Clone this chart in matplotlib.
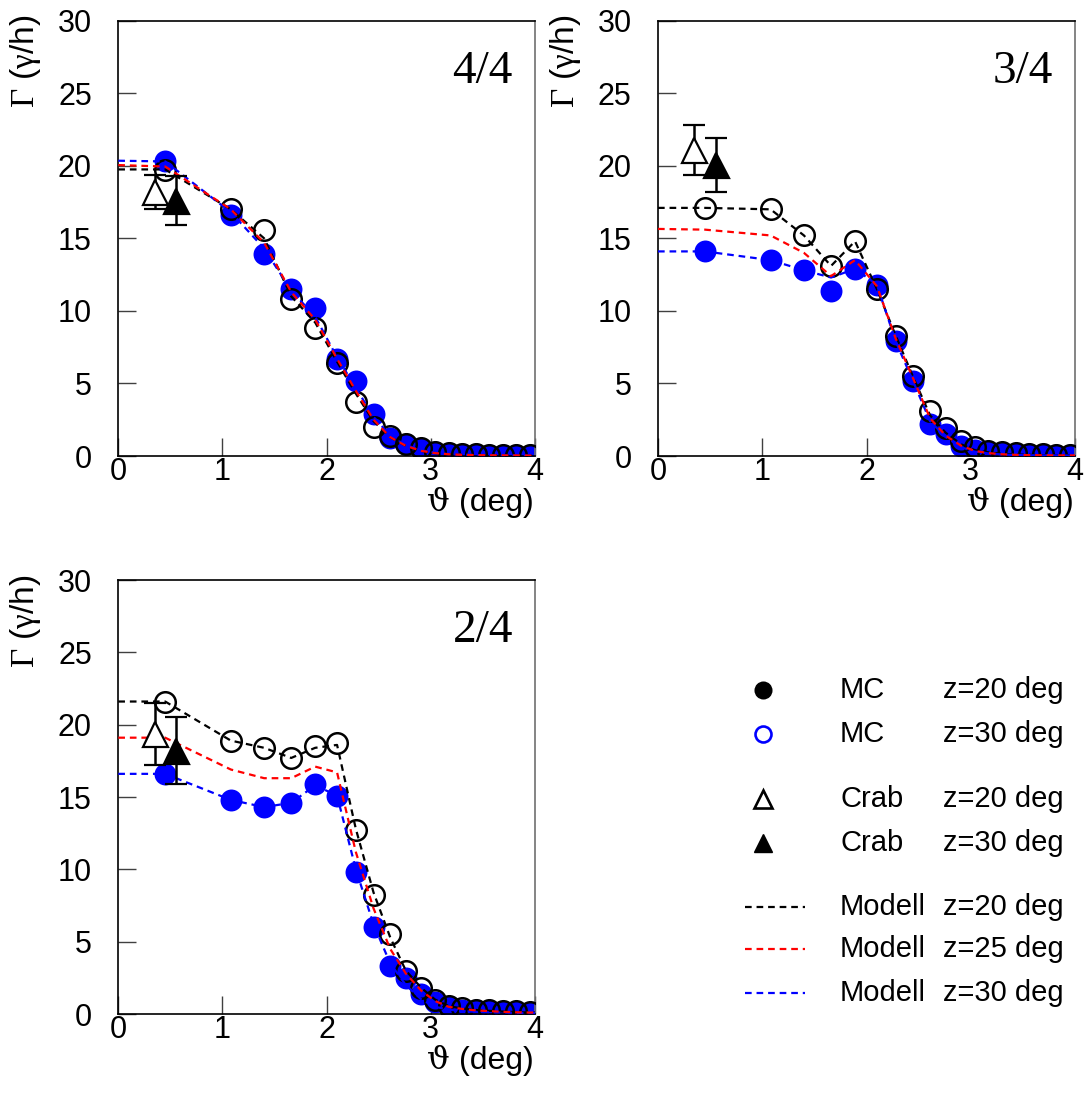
import matplotlib
matplotlib.use("Agg")
import matplotlib.pyplot as plt

plt.rcParams['font.family'] = ['Liberation Sans', 'DejaVu Sans']
plt.rcParams['mathtext.fontset'] = 'custom'
plt.rcParams['mathtext.rm'] = 'Liberation Serif'
plt.rcParams['mathtext.it'] = 'Liberation Serif:italic'
plt.rcParams['mathtext.sf'] = 'DejaVu Serif'

# ---------------- data ----------------
theta = [0.45, 1.08, 1.40, 1.66, 1.89, 2.10, 2.28, 2.45, 2.61, 2.76,
         2.91, 3.04, 3.17, 3.30, 3.43, 3.56, 3.69, 3.82, 3.95]
theta_model = [0.0] + theta + [4.0]

panel_labels = ["4/4", "3/4", "2/4"]

# panel 4/4
mc20_44 = [19.7, 17.0, 15.6, 10.8, 8.8, 6.4, 3.7, 2.0, 1.35, 0.85,
           0.55, 0.3, 0.2, 0.15, 0.12, 0.1, 0.1, 0.08, 0.08]
mc30_44 = [20.3, 16.6, 13.9, 11.5, 10.2, 6.7, 5.2, 2.9, 1.25, 0.8,
           0.5, 0.3, 0.2, 0.15, 0.12, 0.1, 0.1, 0.08, 0.08]
mod20_44 = [19.75, 19.75, 17.0, 15.0, 11.0, 9.2, 6.5, 4.3, 2.4, 1.3, 0.7,
            0.35, 0.2, 0.12, 0.08, 0.06, 0.05, 0.04, 0.04, 0.03, 0.03]
mod25_44 = [20.05, 19.95, 17.0, 14.7, 11.3, 9.4, 6.7, 4.5, 2.5, 1.3, 0.7,
            0.35, 0.2, 0.12, 0.08, 0.06, 0.05, 0.04, 0.04, 0.03, 0.03]
mod30_44 = [20.35, 20.3, 16.8, 14.3, 11.4, 9.6, 6.8, 4.7, 2.7, 1.4, 0.75,
            0.4, 0.22, 0.13, 0.09, 0.07, 0.05, 0.04, 0.04, 0.03, 0.03]
crab20_44 = (0.35, 18.2, 1.2)
crab30_44 = (0.55, 17.6, 1.7)

# panel 3/4
mc20_34 = [17.1, 17.0, 15.2, 13.1, 14.8, 11.5, 8.3, 5.5, 3.1, 1.9,
           1.0, 0.6, 0.35, 0.25, 0.2, 0.15, 0.12, 0.1, 0.1]
mc30_34 = [14.1, 13.5, 12.8, 11.4, 12.9, 11.8, 7.9, 5.2, 2.2, 1.5,
           0.7, 0.4, 0.3, 0.2, 0.15, 0.12, 0.1, 0.1, 0.08]
mod20_34 = [17.1, 17.1, 17.0, 15.2, 13.1, 14.8, 11.5, 8.3, 5.4, 2.8, 1.6,
            0.8, 0.4, 0.25, 0.15, 0.1, 0.08, 0.06, 0.05, 0.05, 0.05]
mod25_34 = [15.65, 15.6, 15.2, 14.0, 12.4, 13.5, 11.7, 8.1, 5.3, 2.6, 1.4,
            0.7, 0.35, 0.2, 0.12, 0.08, 0.06, 0.05, 0.04, 0.04, 0.04]
mod30_34 = [14.1, 14.1, 13.5, 12.8, 12.3, 12.9, 11.8, 7.9, 5.1, 2.4, 1.3,
            0.6, 0.3, 0.18, 0.1, 0.07, 0.05, 0.04, 0.04, 0.03, 0.03]
crab20_34 = (0.35, 21.1, 1.7)
crab30_34 = (0.56, 20.05, 1.85)

# panel 2/4
mc20_24 = [21.6, 18.9, 18.4, 17.7, 18.5, 18.7, 12.7, 8.2, 5.5, 3.0,
           1.8, 1.0, 0.55, 0.4, 0.3, 0.25, 0.22, 0.2, 0.15]
mc30_24 = [16.6, 14.8, 14.3, 14.6, 15.9, 15.1, 9.8, 6.0, 3.3, 2.5,
           1.4, 0.8, 0.45, 0.3, 0.25, 0.2, 0.15, 0.12, 0.1]
mod20_24 = [21.6, 21.6, 18.9, 18.4, 17.7, 18.4, 18.6, 12.8, 8.4, 5.3, 3.0,
            1.8, 1.0, 0.55, 0.38, 0.28, 0.22, 0.17, 0.13, 0.1, 0.1]
mod25_24 = [19.1, 19.1, 16.9, 16.3, 16.3, 17.1, 16.7, 11.2, 7.3, 4.5, 2.8,
            1.6, 0.9, 0.5, 0.35, 0.25, 0.2, 0.15, 0.12, 0.1, 0.1]
mod30_24 = [16.6, 16.6, 14.8, 14.3, 14.6, 15.8, 15.1, 10.0, 6.2, 3.5, 2.0,
            1.0, 0.5, 0.3, 0.2, 0.15, 0.12, 0.1, 0.08, 0.07, 0.07]
crab20_24 = (0.35, 19.35, 2.15)
crab30_24 = (0.55, 18.2, 2.3)

xticks = [0, 1, 2, 3, 4]
yticks = [0, 5, 10, 15, 20, 25, 30]

legend_rows = [
    ("MC", "z=20 deg"), ("MC", "z=30 deg"),
    ("Crab", "z=20 deg"), ("Crab", "z=30 deg"),
    ("Modell", "z=20 deg"), ("Modell", "z=25 deg"), ("Modell", "z=30 deg"),
]

# ---------------- figure ----------------
W, H = 1089, 1101
fig = plt.figure(figsize=(W / 100, H / 100), dpi=100)

def frac_box(x0, y0, x1, y1):
    return [x0 / W, 1 - y1 / H, (x1 - x0) / W, (y1 - y0) / H]

boxes = [frac_box(118.3, 20.7, 535, 456),
         frac_box(658, 20.7, 1075, 456),
         frac_box(118.3, 580, 535, 1014)]

panels = [
    (mc20_44, mc30_44, mod20_44, mod25_44, mod30_44, crab20_44, crab30_44),
    (mc20_34, mc30_34, mod20_34, mod25_34, mod30_34, crab20_34, crab30_34),
    (mc20_24, mc30_24, mod20_24, mod25_24, mod30_24, crab20_24, crab30_24),
]

BLUE = (0, 0, 1)
RED = (1, 0, 0)
dash = (3.0, 2.2)
FS = 22

for box, label, pdata in zip(boxes, panel_labels, panels):
    mc20, mc30, m20, m25, m30, c20, c30 = pdata
    ax = fig.add_axes(box)
    ax.set_xlim(0, 4)
    ax.set_ylim(0, 30)

    ax.plot(theta, mc30, 'o', ls='none', color=BLUE, ms=15.8, mew=0, zorder=2)
    ax.plot(theta, mc20, 'o', ls='none', mfc='none', mec='black', ms=14.8,
            mew=1.8, zorder=3)
    ax.plot(theta_model, m20, color='black', lw=1.6, dashes=dash, zorder=4)
    ax.plot(theta_model, m30, color=BLUE, lw=1.6, dashes=dash, zorder=4)
    ax.plot(theta_model, m25, color=RED, lw=1.6, dashes=dash, zorder=4)

    ax.errorbar([c20[0]], [c20[1]], yerr=[c20[2]], fmt='^', mfc='white',
                mec='black', ms=18, mew=1.6, ecolor='black', elinewidth=1.8,
                capsize=8, capthick=1.8, zorder=5)
    ax.errorbar([c30[0]], [c30[1]], yerr=[c30[2]], fmt='^', mfc='black',
                mec='black', ms=18, mew=1.6, ecolor='black', elinewidth=1.8,
                capsize=8, capthick=1.8, zorder=5)

    ax.set_xticks(xticks)
    ax.set_yticks(yticks)
    ax.set_xticklabels([str(v) for v in xticks])
    ax.set_yticklabels([str(v) for v in yticks])
    ax.tick_params(axis='both', direction='in', length=13, width=1.0,
                   color='#404040', labelsize=FS)
    ax.tick_params(axis='y', pad=19)
    ax.tick_params(axis='x', pad=1)
    for s in ['left', 'bottom', 'top']:
        ax.spines[s].set_linewidth(1.2)
        ax.spines[s].set_color('black')
    ax.spines['right'].set_linewidth(1.2)
    ax.spines['right'].set_color('#707070')

    ax.text(0.947, 0.8576, label, transform=ax.transAxes, ha='right',
            va='baseline', fontsize=34, family='Liberation Serif')
    # x label: serif theta + sans "(deg)"
    ax.annotate("(deg)", xy=(1.0, 0.0), xycoords='axes fraction',
                xytext=(-1, -55), textcoords='offset pixels',
                ha='right', va='baseline', fontsize=23)
    ax.annotate(r"$\mathsf{\vartheta}$", xy=(1.0, 0.0),
                xycoords='axes fraction',
                xytext=(-85, -55), textcoords='offset pixels',
                ha='right', va='baseline', fontsize=23)
    ax.text(-0.222, 1.013, r"$\mathrm{\Gamma}$ ($\mathrm{\gamma}$/h)",
            transform=ax.transAxes, ha='center', va='top', rotation=90,
            fontsize=24)

# ---------------- legend (pixel layout) ----------------
lg = fig.add_axes([0, 0, 1, 1])
lg.set_xlim(0, W)
lg.set_ylim(H, 0)
lg.axis('off')

row_y = [690, 734, 799, 843, 907, 949, 993]
mk_x = 763
styles = [
    dict(marker='o', mfc='black', mec='black', ms=13, mew=0),
    dict(marker='o', mfc='none', mec=BLUE, ms=11.5, mew=1.9),
    dict(marker='^', mfc='none', mec='black', ms=13, mew=1.9),
    dict(marker='^', mfc='black', mec='black', ms=13, mew=1.0),
]
line_colors = ['black', RED, BLUE]
for i, ((name, zlab), y) in enumerate(zip(legend_rows, row_y)):
    if i < 4:
        lg.plot([mk_x], [y], ls='none', **styles[i])
    else:
        lg.plot([745, 805], [y, y], color=line_colors[i - 4], lw=1.6,
                dashes=dash)
    lg.text(840, y + 8, name, ha='left', va='baseline', fontsize=21)
    lg.text(943, y + 8, zlab, ha='left', va='baseline', fontsize=21)

fig.savefig("out.png", dpi=100)
